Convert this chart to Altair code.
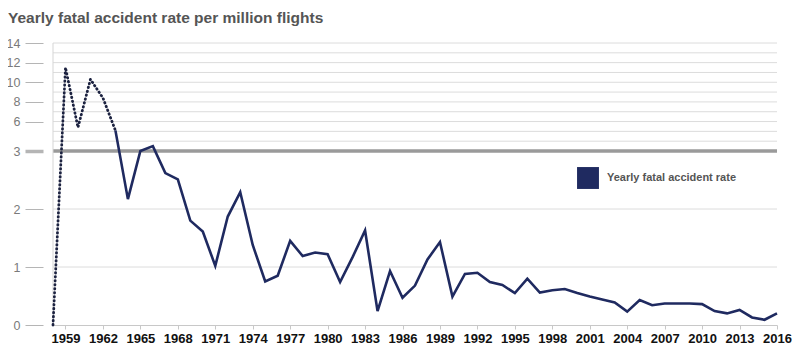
import altair as alt
import pandas as pd

# ---- data ----
years_early = [1958, 1959, 1960, 1961, 1962, 1963]
rate_early = [0.0, 11.5, 5.4, 10.3, 8.4, 5.1]

years_main = list(range(1963, 2017))
rate_main = [5.1, 2.17, 3.0, 3.5, 2.62, 2.51, 1.80, 1.61, 1.02, 1.87,
             2.29, 1.38, 0.75, 0.85, 1.45, 1.19, 1.25, 1.22, 0.74, 1.17,
             1.63, 0.24, 0.93, 0.47, 0.68, 1.13, 1.43, 0.49, 0.88, 0.90,
             0.74, 0.69, 0.55, 0.80, 0.56, 0.60, 0.62, 0.55, 0.49, 0.44,
             0.39, 0.23, 0.43, 0.34, 0.37, 0.37, 0.37, 0.36, 0.24, 0.20,
             0.26, 0.13, 0.09, 0.20]

y_ticks = [0, 1, 2, 3, 6, 8, 10, 12, 14]
x_ticks = list(range(1959, 2017, 3))
grid_values = [1, 2, 4, 5, 6, 7, 8, 9, 10, 11, 12, 13, 14]
break_value = [3]
series_name = "Yearly fatal accident rate"

NAVY = "#1f2a60"
W, H = 724, 282

df_early = pd.DataFrame({"year": years_early, "rate": rate_early})
df_main = pd.DataFrame({"year": years_main, "rate": rate_main, "series": series_name})
df_grid = pd.DataFrame({"v": grid_values})
df_break = pd.DataFrame({"v": break_value})
df_left = pd.DataFrame({"year": [1958]})

xscale = alt.Scale(domain=[1958, 2016], nice=False, zero=False)
yscale = alt.Scale(domain=[0, 3, 14], range=[H, 108, 0], nice=False, zero=False)

yaxis = alt.Axis(
    values=y_ticks, grid=False, domain=False, title=None,
    offset=10, tickSize=18, tickColor="#b5b5b5",
    tickWidth={"condition": {"test": "datum.value === 3", "value": 3.5}, "value": 1},
    labelColor="#7a7a7a", labelFontSize=12.5, labelPadding=5,
    labelFont="Liberation Sans", labelOverlap=False, labelFlush=False,
)
xaxis = alt.Axis(
    values=x_ticks, format="d", grid=False, title=None,
    domainColor="#c8c8c8", tickColor="#c8c8c8", tickSize=4,
    labelColor="#111111", labelFontSize=13, labelFontWeight="bold",
    labelPadding=3, labelFont="Liberation Sans", labelOverlap=False,
    labelFlush=False,
)

grid = alt.Chart(df_grid).mark_rule(color="#dcdcdc", strokeWidth=1).encode(
    y=alt.Y("v:Q", scale=yscale, axis=yaxis)
)
brk = alt.Chart(df_break).mark_rule(color="#9a9a9a", strokeWidth=3.5).encode(
    y=alt.Y("v:Q", scale=yscale, axis=yaxis)
)
left = alt.Chart(df_left).mark_rule(color="#d5d5d5", strokeWidth=1).encode(
    x=alt.X("year:Q", scale=xscale, axis=xaxis)
)

early = alt.Chart(df_early).mark_line(
    color="#1c2240", strokeWidth=2.8, strokeDash=[0.5, 3.5], strokeCap="round"
).encode(
    x=alt.X("year:Q", scale=xscale, axis=xaxis),
    y=alt.Y("rate:Q", scale=yscale, axis=yaxis),
)

main = alt.Chart(df_main).mark_line(strokeWidth=2.6).encode(
    x=alt.X("year:Q", scale=xscale, axis=xaxis),
    y=alt.Y("rate:Q", scale=yscale, axis=yaxis),
    color=alt.Color(
        "series:N",
        scale=alt.Scale(domain=[series_name], range=[NAVY]),
        legend=alt.Legend(
            title=None, orient="none", legendX=524, legendY=124,
            symbolType="square", symbolSize=480, symbolFillColor=NAVY,
            symbolStrokeColor=NAVY, symbolStrokeWidth=0,
            labelFont="Liberation Sans", labelFontSize=11, labelFontWeight="bold",
            labelColor="#555555", labelOffset=8, padding=0,
        ),
    ),
)

chart = alt.layer(grid, brk, left, early, main).properties(
    width=W, height=H,
    autosize=alt.AutoSizeParams(type="none"),
    padding={"left": 45, "top": 35, "right": 15, "bottom": 26},
    title=alt.Title(
        "Yearly fatal accident rate per million flights",
        anchor="start", frame="group", dx=-45, offset=11,
        font="Liberation Sans", fontSize=15.5, fontWeight="bold", color="#555555",
    ),
).configure_view(stroke=None).configure_axis(labelOverlap=False, labelFlush=False)

chart.save("out.html", embed_options={"renderer": "svg", "actions": False})
